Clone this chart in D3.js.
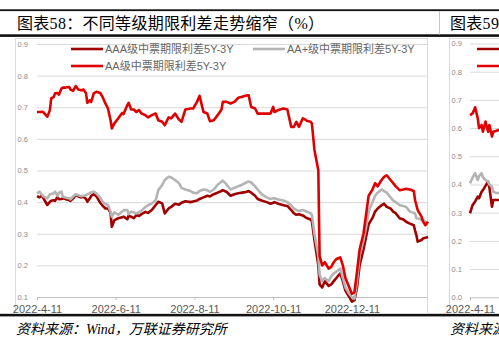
<!DOCTYPE html>
<html><head><meta charset="utf-8">
<script src="https://cdn.jsdelivr.net/npm/d3@7"></script>
<style>
html,body{margin:0;padding:0;background:#fff;overflow:hidden;}
svg{display:block;}
</style></head><body>
<svg id="c" width="499" height="345"></svg>
<script>
// ---------- data: chart 58 ----------
const dates = ["2022-04-11","2022-04-13","2022-04-15","2022-04-16","2022-04-19","2022-04-21","2022-04-22","2022-04-24","2022-04-25","2022-04-27",
"2022-04-28","2022-04-30","2022-05-01","2022-05-03","2022-05-04","2022-05-06","2022-05-07","2022-05-09","2022-05-11","2022-05-13",
"2022-05-15","2022-05-17","2022-05-19","2022-05-20","2022-05-22","2022-05-23","2022-05-25","2022-05-27","2022-05-30","2022-06-01",
"2022-06-03","2022-06-05","2022-06-07","2022-06-08","2022-06-10","2022-06-13","2022-06-16","2022-06-17","2022-06-20","2022-06-21",
"2022-06-23","2022-06-25","2022-06-27","2022-06-29","2022-07-01","2022-07-04","2022-07-06","2022-07-09","2022-07-12","2022-07-14",
"2022-07-17","2022-07-19","2022-07-22","2022-07-24","2022-07-27","2022-07-30","2022-08-01","2022-08-04","2022-08-08","2022-08-10",
"2022-08-13","2022-08-15","2022-08-18","2022-08-21","2022-08-23","2022-08-26","2022-08-29","2022-09-01","2022-09-02","2022-09-05",
"2022-09-08","2022-09-11","2022-09-14","2022-09-17","2022-09-20","2022-09-22","2022-09-24","2022-09-27","2022-09-29","2022-10-02",
"2022-10-06","2022-10-09","2022-10-11","2022-10-12","2022-10-15","2022-10-19","2022-10-22","2022-10-25","2022-10-27","2022-10-29",
"2022-10-31","2022-11-03","2022-11-05","2022-11-06","2022-11-09","2022-11-10","2022-11-12","2022-11-15","2022-11-16","2022-11-18",
"2022-11-20","2022-11-23","2022-11-25","2022-11-27","2022-11-29","2022-12-02","2022-12-04","2022-12-06","2022-12-09","2022-12-11",
"2022-12-13","2022-12-15","2022-12-17","2022-12-20","2022-12-22","2022-12-24","2022-12-27","2022-12-29","2022-12-31","2023-01-03",
"2023-01-05","2023-01-07","2023-01-10","2023-01-12","2023-01-14","2023-01-17","2023-01-20","2023-01-22","2023-01-25","2023-01-28",
"2023-01-29","2023-01-30","2023-01-31","2023-02-03","2023-02-04","2023-02-06","2023-02-08"];

const aa = [0.685,0.685,0.686,0.684,0.670,0.691,0.728,0.733,0.744,0.745,
0.740,0.759,0.762,0.762,0.763,0.764,0.756,0.752,0.767,0.756,
0.754,0.756,0.744,0.714,0.722,0.717,0.744,0.749,0.745,0.731,
0.712,0.696,0.659,0.633,0.649,0.665,0.682,0.678,0.707,0.714,
0.693,0.693,0.685,0.691,0.680,0.675,0.668,0.675,0.680,0.659,
0.654,0.643,0.668,0.665,0.680,0.661,0.654,0.693,0.696,0.696,
0.717,0.736,0.685,0.680,0.656,0.659,0.675,0.693,0.717,0.717,
0.712,0.717,0.730,0.733,0.737,0.738,0.701,0.696,0.680,0.680,
0.680,0.680,0.701,0.685,0.691,0.696,0.693,0.638,0.638,0.654,
0.638,0.665,0.661,0.657,0.654,0.649,0.565,0.501,0.230,0.200,
0.210,0.190,0.195,0.210,0.220,0.225,0.200,0.160,0.130,0.110,
0.115,0.180,0.250,0.300,0.360,0.420,0.440,0.460,0.450,0.470,
0.480,0.485,0.470,0.460,0.450,0.438,0.440,0.442,0.440,0.435,
0.406,0.390,0.375,0.354,0.340,0.327,0.338];

const aaa = [0.419,0.415,0.422,0.412,0.391,0.401,0.404,0.406,0.404,0.417,
0.409,0.410,0.412,0.410,0.408,0.406,0.404,0.412,0.422,0.418,
0.415,0.417,0.410,0.401,0.412,0.420,0.425,0.419,0.398,0.388,
0.380,0.380,0.366,0.322,0.343,0.349,0.352,0.354,0.346,0.357,
0.354,0.349,0.359,0.356,0.362,0.369,0.366,0.375,0.391,0.401,
0.396,0.364,0.380,0.385,0.395,0.392,0.398,0.403,0.400,0.402,
0.405,0.410,0.415,0.420,0.418,0.425,0.430,0.435,0.438,0.432,
0.420,0.425,0.428,0.430,0.432,0.435,0.430,0.420,0.410,0.405,
0.400,0.395,0.398,0.400,0.395,0.390,0.388,0.375,0.365,0.360,
0.362,0.358,0.352,0.350,0.345,0.340,0.280,0.200,0.140,0.130,
0.150,0.135,0.140,0.150,0.160,0.175,0.150,0.120,0.100,0.085,
0.090,0.130,0.200,0.250,0.290,0.330,0.350,0.370,0.380,0.390,
0.395,0.385,0.380,0.370,0.365,0.349,0.345,0.338,0.332,0.327,
0.310,0.296,0.275,0.280,0.285,0.287,0.290];

const aaPlus = [0.428,0.433,0.422,0.418,0.412,0.425,0.426,0.428,0.433,0.419,
0.430,0.433,0.417,0.415,0.413,0.412,0.409,0.418,0.425,0.422,
0.419,0.420,0.422,0.425,0.428,0.431,0.433,0.428,0.414,0.400,
0.394,0.391,0.370,0.354,0.368,0.360,0.370,0.374,0.375,0.362,
0.370,0.367,0.364,0.368,0.373,0.385,0.390,0.396,0.406,0.438,
0.454,0.470,0.480,0.478,0.470,0.460,0.445,0.440,0.435,0.430,
0.428,0.435,0.440,0.438,0.432,0.440,0.455,0.465,0.468,0.455,
0.440,0.445,0.450,0.455,0.462,0.465,0.462,0.450,0.440,0.425,
0.415,0.410,0.412,0.412,0.408,0.405,0.400,0.390,0.380,0.375,
0.372,0.375,0.372,0.370,0.365,0.360,0.300,0.230,0.170,0.150,
0.160,0.150,0.165,0.175,0.180,0.190,0.160,0.130,0.110,0.100,
0.095,0.150,0.230,0.280,0.320,0.370,0.400,0.420,0.430,0.440,
0.435,0.430,0.415,0.405,0.400,0.390,0.388,0.385,0.370,0.366,
0.364,0.349,0.348,0.345,0.343,0.338,0.333];

const xTickDates = ["2022-04-11","2022-06-11","2022-08-11","2022-10-11","2022-12-11"];
const xTickLabels = ["2022-4-11","2022-6-11","2022-8-11","2022-10-11","2022-12-11"];
const yTicks = [0.1,0.2,0.3,0.4,0.5,0.6,0.7,0.8,0.9];
const seriesNames = ["AAA级中票期限利差5Y-3Y","AA+级中票期限利差5Y-3Y","AA级中票期限利差5Y-3Y"];
const seriesColors = ["#A00000","#B4B4B4","#E00000"];
const titleText = "图表58：不同等级期限利差走势缩窄（%）";
const sourceText = "资料来源：Wind，万联证券研究所";

// ---------- data: chart 59 (partly visible at right edge) ----------
const dates59 = ["2022-04-11","2022-04-13","2022-04-15","2022-04-17","2022-04-18","2022-04-20","2022-04-21",
"2022-04-23","2022-04-25","2022-04-26","2022-04-28","2022-04-29","2022-05-01","2022-05-03","2022-05-05"];
const aa59 =     [0.646,0.652,0.674,0.635,0.600,0.611,0.587,0.623,0.587,0.611,0.570,0.587,0.590,0.593,0.590];
const aaa59 =    [0.298,0.327,0.340,0.357,0.351,0.374,0.380,0.395,0.410,0.390,0.321,0.345,0.345,0.345,0.345];
const aaPlus59 = [0.404,0.425,0.440,0.416,0.430,0.440,0.425,0.416,0.410,0.400,0.392,0.375,0.370,0.370,0.370];
const yTicks59 = [0,0.1,0.2,0.3,0.4,0.5,0.6,0.7,0.8,0.9];
const title59 = "图表59";
const source59 = "资料来源";

// ---------- drawing ----------
const parse = d3.utcParse("%Y-%m-%d");
const svg = d3.select("#c");
const cjk = "'Liberation Serif','Noto Sans CJK SC',serif";
const sans = "'Liberation Sans','Noto Sans CJK SC',sans-serif";

// frame lines of the document table
svg.append("rect").attr("x",0).attr("y",9.3).attr("width",499).attr("height",1.8).attr("fill","#111");
svg.append("rect").attr("x",0).attr("y",34.3).attr("width",499).attr("height",2.6).attr("fill","#111");
svg.append("rect").attr("x",0).attr("y",313.8).attr("width",499).attr("height",2.6).attr("fill","#111");
svg.append("line").attr("x1",439.5).attr("x2",439.5).attr("y1",11).attr("y2",34.5).attr("stroke","#c8c8c8").attr("stroke-width",1);

// titles
svg.append("text").attr("x",17).attr("y",28.5).attr("font-family",cjk).attr("font-size",16)
  .attr("letter-spacing",0.3).attr("fill","#000").text(titleText);
svg.append("text").attr("x",450).attr("y",28.5).attr("font-family",cjk).attr("font-size",16)
  .attr("letter-spacing",0.3).attr("fill","#000").text(title59);

// sources
const src = svg.append("text").attr("x",16).attr("y",334).attr("font-family",cjk).attr("font-size",14)
  .attr("font-style","italic").attr("fill","#000");
src.text(sourceText);
svg.append("text").attr("x",450).attr("y",334).attr("font-family",cjk).attr("font-size",14)
  .attr("font-style","italic").attr("fill","#000").text(source59);

// chart boxes
svg.append("rect").attr("x",15.5).attr("y",38.5).attr("width",412).attr("height",275).attr("fill","none").attr("stroke","#d9d9d9");
svg.append("rect").attr("x",449.5).attr("y",38.5).attr("width",60).attr("height",275).attr("fill","none").attr("stroke","#d9d9d9");

function drawChart(opt){
  const g = svg.append("g");
  const x = d3.scaleUtc().domain(opt.xDomain.map(parse)).range(opt.xRange);
  const y = d3.scaleLinear().domain(opt.yDomain).range(opt.yRange);
  // gridlines
  const grid = g.append("g").attr("transform",`translate(${opt.xRange[0]},0)`)
    .call(d3.axisLeft(y).tickValues(opt.yTicks.slice(1)).tickSize(-(opt.gridRight-opt.xRange[0])).tickFormat(""));
  grid.select(".domain").remove();
  grid.selectAll("line").attr("stroke","#d9d9d9").attr("stroke-width",1);
  // y labels
  const yl = g.append("g").attr("transform",`translate(${opt.yLabelX},0)`)
    .call(d3.axisLeft(y).tickValues(opt.yTicks).tickSize(0).tickPadding(0).tickFormat(d3.format(".1f")));
  yl.select(".domain").remove();
  yl.selectAll("text").attr("font-family",sans).attr("font-size",7.5).attr("fill","#8c8c8c");
  // x axis
  const xa = g.append("g").attr("transform",`translate(0,${opt.yRange[0]})`)
    .call(d3.axisBottom(x).tickValues(opt.xTicks.map(parse)).tickSize(3).tickPadding(5)
      .tickFormat((d,i)=>opt.xLabels[i]));
  xa.select(".domain").attr("stroke","#bfbfbf").attr("d",`M${opt.xRange[0]},0.5H${opt.gridRight}`);
  xa.selectAll("line").attr("stroke","#bfbfbf");
  xa.selectAll("text").attr("font-family",sans).attr("font-size",11).attr("fill","#595959");
  // lines
  const parsed = opt.dates.map(parse);
  opt.series.forEach((vals,i)=>{
    const line = d3.line().x((d,j)=>x(parsed[j])).y(d=>y(d));
    g.append("path").datum(vals).attr("d",line).attr("fill","none")
      .attr("stroke",seriesColors[i]).attr("stroke-width",2.6).attr("stroke-linejoin","round");
  });
  return g;
}

drawChart({
  xDomain:["2022-04-11","2023-02-08"], xRange:[37,428], gridRight:427,
  yDomain:[0.1,0.9], yRange:[297,44], yTicks:yTicks, yLabelX:28,
  xTicks:xTickDates, xLabels:xTickLabels,
  dates:dates, series:[aaa,aaPlus,aa]
});

drawChart({
  xDomain:["2022-04-11","2022-05-05"], xRange:[470,501], gridRight:510,
  yDomain:[0,0.9], yRange:[297.3,43.5], yTicks:yTicks59, yLabelX:462,
  xTicks:["2022-04-11"], xLabels:["2022-4-11"],
  dates:dates59, series:[aaa59,aaPlus59,aa59]
});

// legend chart 58
const legendItems = [
  {x:71, y:49, i:0},
  {x:253, y:49, i:1},
  {x:71, y:66, i:2}
];
const lg = svg.append("g");
legendItems.forEach(it=>{
  lg.append("line").attr("x1",it.x).attr("x2",it.x+32).attr("y1",it.y).attr("y2",it.y)
    .attr("stroke",seriesColors[it.i]).attr("stroke-width",2.6);
  lg.append("text").attr("x",it.x+34).attr("y",it.y+4).attr("font-family",sans).attr("font-size",11)
    .attr("fill","#666").text(seriesNames[it.i]);
});
// legend chart 59 (only line starts visible)
[{y:49,i:0},{y:66,i:2}].forEach(it=>{
  lg.append("line").attr("x1",477).attr("x2",510).attr("y1",it.y).attr("y2",it.y)
    .attr("stroke",seriesColors[it.i]).attr("stroke-width",2.6);
});
</script>
</body></html>
